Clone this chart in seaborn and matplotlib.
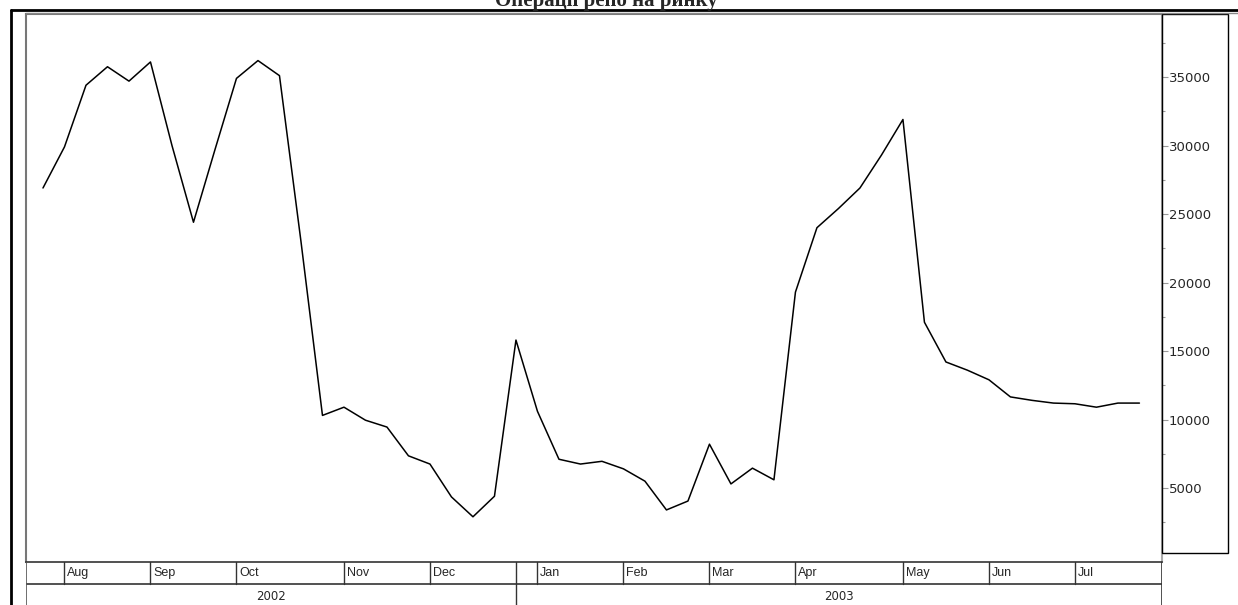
import numpy as np
import pandas as pd
import matplotlib
matplotlib.use("Agg")
import matplotlib.pyplot as plt
import seaborn as sns

# weekly values, Jul 2002 - Jul 2003
values = [26900, 29900, 34400, 35750, 34700, 36100, 30000, 24400, 29700, 34900,
          36200, 35100, 23000, 10300, 10900, 9950, 9450, 7350, 6750, 4350,
          2900, 4400, 15800, 10600, 7100, 6750, 6950, 6400, 5500, 3400,
          4050, 8200, 5300, 6450, 5600, 19300, 24000, 25400, 26900, 29300,
          31900, 17100, 14200, 13600, 12900, 11650, 11400, 11200, 11150, 10900,
          11200, 11200]
month_labels = ["Aug", "Sep", "Oct", "Nov", "Dec", "Jan", "Feb", "Mar", "Apr", "May", "Jun", "Jul"]
month_start_week = [1, 5, 9, 14, 18, 23, 27, 31, 35, 40, 44, 48]
year_labels = ["2002", "2003"]
year_break_week = 22
title = "Операції репо на ринку"

df = pd.DataFrame({"week": np.arange(len(values)), "value": values})

sns.set_style("white")
plt.rcParams["font.family"] = ["Liberation Sans", "DejaVu Sans"]

W, H = 1238, 605
fig = plt.figure(figsize=(W / 100, H / 100), dpi=100)

xlim = (-0.79, 52.05)
ax = fig.add_axes([26 / W, 43 / H, (1162 - 26) / W, (562 - 14) / H])
sns.lineplot(data=df, x="week", y="value", ax=ax, color="black", linewidth=1.1)
ax.set_xlim(*xlim)
ax.set_ylim(-400, 39600)
ax.set_xlabel("")
ax.set_ylabel("")
ax.set_xticks([])
ax.yaxis.tick_right()
ax.set_yticks([5000, 10000, 15000, 20000, 25000, 30000, 35000])
ax.set_yticks(np.arange(2500, 39000, 5000), minor=True)
ax.tick_params(axis="y", which="major", length=4, width=0.8, color="#999999",
               labelsize=9.5, pad=1, direction="out")
ax.tick_params(axis="y", which="minor", length=2, width=0.8, color="#999999", direction="out")
for lab in ax.get_yticklabels():
    lab.set_family("DejaVu Sans")
for s in ["left", "top"]:
    ax.spines[s].set_color("#777777")
    ax.spines[s].set_linewidth(1.5)
ax.spines["right"].set_color("#aaaaaa")
ax.spines["right"].set_linewidth(1.5)
ax.spines["bottom"].set_color("#333333")
ax.spines["bottom"].set_linewidth(1.2)

# box around the value scale
fig.add_artist(plt.Rectangle((1162 / W, 1 - 553 / H), (1228 - 1162) / W, (553 - 14) / H,
                             transform=fig.transFigure, fill=False, edgecolor="black", linewidth=1))

# month row and year row
band = fig.add_axes([26 / W, 0, (1162 - 26) / W, 43 / H])
band.set_xlim(*xlim)
band.set_ylim(0, 43)
band.axis("off")
band.axhline(21, color="#333333", linewidth=1.2)
band.axvline(xlim[0], color="#555555", linewidth=1.2)
band.axvline(xlim[1], color="#333333", linewidth=1.2)
band.axvline(year_break_week, color="#333333", linewidth=1.0)
for wk, lab in zip(month_start_week, month_labels):
    band.plot([wk, wk], [21, 43], color="#333333", linewidth=1.0)
    band.text(wk + 0.12, 32, lab, fontsize=9, ha="left", va="center")
band.text((xlim[0] + year_break_week) / 2, 9, year_labels[0], fontsize=8.5, ha="center",
          va="center", family="DejaVu Sans")
band.text((year_break_week + xlim[1]) / 2, 9, year_labels[1], fontsize=8.5, ha="center",
          va="center", family="DejaVu Sans")

# outer frame
fig.add_artist(plt.Line2D([11 / W, 11 / W], [0, 1 - 10 / H], color="black", linewidth=2))
fig.add_artist(plt.Line2D([11 / W, 1], [1 - 10 / H, 1 - 10 / H], color="black", linewidth=2))
fig.add_artist(plt.Line2D([26 / W, 1], [1 - 13 / H, 1 - 13 / H], color="#888888", linewidth=1))

# title is cut by the top edge, as in the original
fig.text(0.49, 1 - 1 / H, title, ha="center", va="center", fontsize=15,
         fontweight="bold", family=["Liberation Serif", "DejaVu Serif"])

fig.savefig("out.png", dpi=100)
